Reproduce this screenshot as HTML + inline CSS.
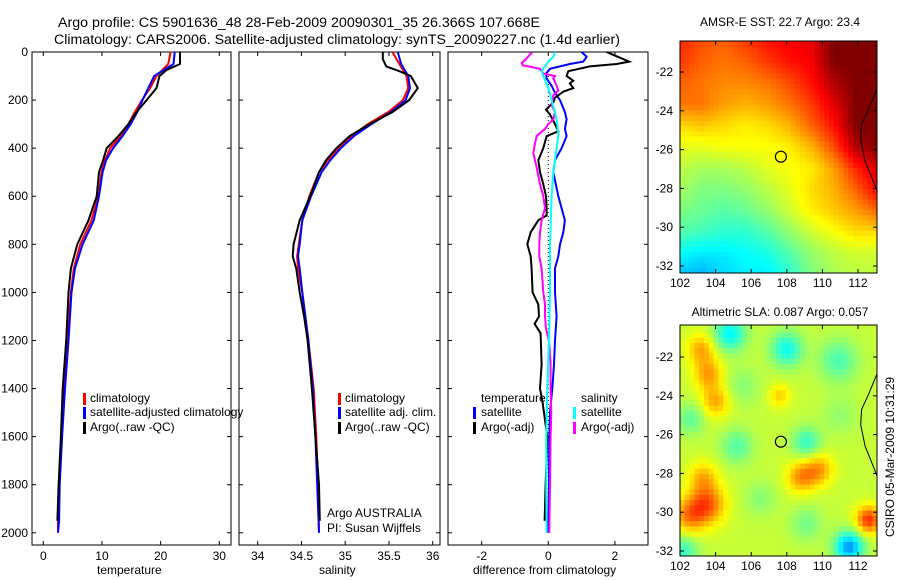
<!DOCTYPE html>
<html><head><meta charset="utf-8"><style>
html,body{margin:0;padding:0;background:#fff;}
svg{display:block;font-family:"Liberation Sans",sans-serif;}
text{font-size:12px;fill:#000;}
</style></head><body>
<svg id="fig" width="900" height="580" viewBox="0 0 900 580" xmlns="http://www.w3.org/2000/svg">
<defs>
<clipPath id="c1"><rect x="32" y="52" width="199" height="493"/></clipPath>
<clipPath id="c2"><rect x="239" y="52" width="201" height="493"/></clipPath>
<clipPath id="c3"><rect x="448" y="52" width="200" height="493"/></clipPath>
<clipPath id="m1c"><rect x="680" y="41" width="197" height="232"/></clipPath>
<clipPath id="m2c"><rect x="680" y="325" width="197" height="231"/></clipPath>
</defs>
<text x="58" y="27" textLength="482" lengthAdjust="spacingAndGlyphs" style="font-size:13.5px">Argo profile: CS 5901636_48 28-Feb-2009 20090301_35 26.366S 107.668E</text>
<text x="54" y="44" textLength="566" lengthAdjust="spacingAndGlyphs" style="font-size:13.5px">Climatology: CARS2006. Satellite-adjusted climatology: synTS_20090227.nc (1.4d earlier)</text>
<g id="layer"></g>
</svg>
<script>
// ---------- data ----------
const depthT = [0,50,75,100,150,200,250,300,350,400,450,500,600,700,800,900,1000,1200,1400,1600,1800,1950];
const tempArgo = [23.3,23.3,21,19.8,19.3,17.6,15.9,14.5,12.8,10.8,10.2,9.5,9.1,7.7,5.8,4.7,4.3,3.9,3.3,3.0,2.6,2.4];
const depthC = [0,50,100,150,200,250,300,350,400,450,500,600,700,800,900,1000,1200,1400,1600,1800,1950,2000];
const tempClim = [21.7,21.3,19.3,18.2,16.8,15.6,14.5,13.1,11.4,10.5,9.9,9.4,8.2,6.3,5.2,4.7,4.1,3.5,3.1,2.7,2.5,2.5];
const tempSat = [22.4,22.2,18.9,17.9,16.9,16.0,14.9,13.5,11.9,10.7,10.1,9.5,8.6,6.7,5.4,4.8,4.3,3.7,3.2,2.8,2.7,2.5];
const depthSA = [0,30,60,80,100,150,200,250,300,350,400,450,500,600,700,800,850,900,1000,1100,1200,1400,1600,1800,1950];
const salArgo = [35.43,35.43,35.47,35.62,35.75,35.83,35.73,35.54,35.28,35.05,34.90,34.78,34.70,34.60,34.48,34.41,34.40,34.44,34.48,34.53,34.57,34.62,34.66,34.70,34.71];
const depthSC = [0,50,100,150,200,250,300,350,400,450,500,600,700,800,850,900,1000,1200,1400,1600,1800,2000];
const salClim = [35.54,35.62,35.70,35.72,35.66,35.49,35.26,35.07,34.92,34.80,34.70,34.59,34.51,34.47,34.45,34.46,34.51,34.58,34.64,34.67,34.69,34.70];
const salSat = [35.60,35.64,35.72,35.74,35.69,35.52,35.30,35.10,34.95,34.83,34.73,34.61,34.51,34.48,34.46,34.48,34.51,34.58,34.63,34.66,34.68,34.70];
const depthDA = [0,15,40,50,60,80,100,120,130,150,165,190,210,240,260,300,330,350,400,450,500,550,600,650,680,700,750,800,850,900,1000,1050,1100,1130,1170,1300,1400,1450,1500,1550,1600,1700,1800,1900,1950];
const diffTArgo = [1.75,2.0,2.43,2.05,1.25,0.6,0.55,0.75,0.65,0.75,0.45,0.2,0.15,-0.07,0.05,0.2,0.3,-0.05,-0.15,-0.3,-0.25,-0.15,-0.07,-0.05,-0.05,-0.3,-0.53,-0.63,-0.53,-0.5,-0.47,-0.3,-0.28,-0.41,-0.23,-0.2,-0.25,-0.18,-0.13,-0.08,-0.03,-0.05,-0.08,-0.1,-0.11];
const depthDS = [0,20,40,50,70,90,110,140,170,200,250,280,320,350,400,450,500,600,700,750,800,850,900,1000,1100,1200,1300,1400,1500,1600,1800,2000];
const diffTSat = [1.0,1.15,1.05,0.65,0.05,-0.07,-0.05,0.1,0.2,0.35,0.5,0.55,0.5,0.55,0.4,0.2,0.15,0.3,0.5,0.45,0.35,0.3,0.2,0.2,0.25,0.2,0.17,0.12,0.05,0.03,0.02,0];
const depthDC = [0,20,40,60,80,100,150,200,250,300,350,400,450,500,600,800,1000,1200,1400,1600,1800,2000];
const diffSSat = [0.2,0.15,0,-0.1,-0.2,-0.15,0,0.1,0.2,0.27,0.3,0.25,0.2,0.15,0.1,0.05,0.05,0.02,-0.03,-0.06,-0.06,-0.05];
const depthDM = [0,10,30,45,55,70,90,100,110,140,160,180,220,250,280,300,320,350,380,420,480,550,600,650,700,750,800,850,900,1000,1050,1100,1150,1200,1300,1400,1500,1600,1800,2000];
const diffSArgo = [-0.47,-0.55,-0.67,-0.8,-0.77,-0.25,-0.15,0.2,0.15,0.25,0.3,0.15,0.1,0.2,0.15,0,-0.1,-0.35,-0.4,-0.45,-0.35,-0.25,-0.15,-0.1,-0.2,-0.25,-0.27,-0.27,-0.2,-0.15,-0.1,-0.1,-0.07,0.02,0.07,0.07,0.09,0.07,0.05,0.03];
const depthTicks = [0,200,400,600,800,1000,1200,1400,1600,1800,2000];
const tempTicks = [0,10,20,30];
const salTicks = [34,34.5,35,35.5,36];
const diffTicks = [-2,0,2];
// SST map coarse grid (colormap index 0..1), rows north->south, cols west->east
const sstGrid = [
[.84,.80,.78,.82,.86,.88,.90,1,1,1],
[.82,.78,.76,.78,.82,.86,.88,1,1,1],
[.78,.76,.74,.74,.76,.80,.86,.95,1,1],
[.76,.76,.72,.70,.72,.76,.82,.90,1,1],
[.66,.68,.66,.64,.66,.70,.78,.86,1,1],
[.60,.60,.62,.62,.62,.64,.70,.80,.95,1],
[.56,.54,.54,.56,.60,.62,.64,.72,.84,.92],
[.54,.50,.50,.52,.56,.60,.66,.70,.78,.88],
[.50,.48,.46,.48,.52,.58,.64,.68,.72,.78],
[.46,.44,.42,.42,.46,.52,.58,.62,.66,.66],
[.38,.36,.36,.38,.40,.46,.52,.56,.58,.58],
[.32,.30,.34,.36,.36,.42,.50,.54,.56,.56]];
// SLA map features: lon, lat, amplitude, radius(deg)
const slaLon = [103.2,103.6,104.0,103.5,102.5,103.3,108.8,109.8,112.6,107.6,104.8,108.0,111.5,102.2,110.9,109.1,105.2,102.6,106.5,109.1,105.5,111.0];
const slaLat = [-21.6,-22.9,-24.3,-29.6,-30.2,-28.2,-28.2,-27.8,-30.4,-24.0,-20.8,-21.6,-31.8,-32.0,-22.2,-26.4,-26.6,-25.2,-29.3,-30.6,-23.5,-25.0];
const slaAmp = [0.14,0.15,0.14,0.22,0.16,0.12,0.16,0.15,0.26,0.10,-0.2,-0.18,-0.3,-0.14,-0.12,-0.14,-0.11,-0.1,-0.06,-0.08,-0.06,-0.05];
const slaRad = [0.8,0.8,0.8,1.0,0.9,0.8,0.8,0.8,0.7,0.6,0.9,0.9,0.8,0.8,1.1,0.8,0.9,0.8,0.9,0.9,1.0,1.0];
const slaBase = 0.57;
const lonTicks = [102,104,106,108,110,112];
const latTicks = [-22,-24,-26,-28,-30,-32];
const argoLon = 107.668, argoLat = -26.366;
const coastLon = [113.1,112.6,112.2,112.15,112.4,112.8,113.1];
const coastLat = [-22.8,-23.9,-24.7,-25.5,-26.6,-27.5,-28.2];

// ---------- helpers ----------
const NS='http://www.w3.org/2000/svg';
const layer=document.getElementById('layer');
function mk(tag,attrs,parent){const e=document.createElementNS(NS,tag);for(const k in attrs)e.setAttribute(k,attrs[k]);(parent||layer).appendChild(e);return e;}
const PB = 545;
const yD = d => 52 + d*0.2404;
const xT = v => 43.3 + v*5.867;
const xS = v => 257.7 + (v-34)*87.5;
const xD = v => 548.3 + v*33.3;
function poly(xs,ds,fx,color,clip,name,w){
  const pts=xs.map((v,i)=>fx(v).toFixed(1)+','+yD(ds[i]).toFixed(1)).join(' ');
  const p=mk('polyline',{points:pts,fill:'none',stroke:color,'stroke-width':w||2,'clip-path':'url(#'+clip+')'});
  
  
}
function frame(x0,x1,name){
  const r=mk('rect',{x:x0,y:52,width:x1-x0,height:PB-52,fill:'none',stroke:'#000','stroke-width':1});
  
  
  depthTicks.forEach(d=>{const y=yD(d);
    mk('line',{x1:x0,x2:x0+4,y1:y,y2:y,stroke:'#000'});
    mk('line',{x1:x1-4,x2:x1,y1:y,y2:y,stroke:'#000'});});
}
function xticks(ticks,fx,fmt,name){
  ticks.forEach(t=>{const x=fx(t);
    mk('line',{x1:x,x2:x,y1:52,y2:56,stroke:'#000'});
    mk('line',{x1:x,x2:x,y1:PB-4,y2:PB,stroke:'#000'});
    const tx=mk('text',{x:x,y:560,'text-anchor':'middle'});tx.textContent=fmt(t);
    
    
  });
}
function label(x,y,txt,name,anchor,size){const t=mk('text',{x:x,y:y,'text-anchor':anchor||'start'});if(size)t.style.fontSize=size+'px';t.textContent=txt;
  
  
  return t;}
function legMark(x,y,color,name){const r=mk('rect',{x:x,y:y-10,width:3,height:12,fill:color});
  
  }

// ---------- panel 1: temperature ----------
frame(32,231,'temperature-axes');
xticks(tempTicks,xT,t=>String(t),'temperature-tick-label');
depthTicks.forEach(d=>{label(28,yD(d)+4,String(d),'depth-tick-label','end');});
poly(tempClim,depthC,xT,'#f00','c1','temp-climatology-line');
poly(tempSat,depthC,xT,'#00f','c1','temp-satellite-line');
poly(tempArgo,depthT,xT,'#000','c1','temp-argo-line');
label(97,574,'temperature','temperature-axis-title');
legMark(83,403,'#f00','legend-climatology-mark');label(90,402,'climatology','legend-climatology');
legMark(83,417,'#00f','legend-satellite-mark');label(90,416,'satellite-adjusted climatology','legend-satellite');
legMark(83,432,'#000','legend-argo-mark');label(90,431,'Argo(..raw -QC)','legend-argo');

// ---------- panel 2: salinity ----------
frame(239,440,'salinity-axes');
xticks(salTicks,xS,t=>String(t),'salinity-tick-label');
poly(salClim,depthSC,xS,'#f00','c2','sal-climatology-line');
poly(salSat,depthSC,xS,'#00f','c2','sal-satellite-line');
poly(salArgo,depthSA,xS,'#000','c2','sal-argo-line');
label(319,574,'salinity','salinity-axis-title');
legMark(338,403,'#f00','legend-sal-clim-mark');label(345,402,'climatology','legend-sal-climatology');
legMark(338,417,'#00f','legend-sal-sat-mark');label(345,416,'satellite adj. clim.','legend-sal-satellite');
legMark(338,432,'#000','legend-sal-argo-mark');label(345,431,'Argo(..raw -QC)','legend-sal-argo');
label(327,517,'Argo AUSTRALIA','credit-argo-australia');
label(327,532,'PI: Susan Wijffels','credit-pi');

// ---------- panel 3: differences ----------
frame(448,648,'difference-axes');
xticks(diffTicks,xD,t=>String(t),'difference-tick-label');
mk('line',{x1:xD(0),x2:xD(0),y1:yD(100),y2:yD(2000),stroke:'#000','stroke-width':1,'stroke-dasharray':'1,3'});
poly(diffTSat,depthDS,xD,'#00f','c3','diff-temp-satellite-line');
poly(diffTArgo,depthDA,xD,'#000','c3','diff-temp-argo-line');
poly(diffSArgo,depthDM,xD,'#f0f','c3','diff-sal-argo-line');
poly(diffSSat,depthDC,xD,'#0ff','c3','diff-sal-satellite-line');
label(473,574,'difference from climatology','difference-axis-title');
label(481,402,'temperature','legend-temperature-header');
legMark(473,417,'#00f','legend-temp-sat-mark');label(481,416,'satellite','legend-temp-satellite');
legMark(473,432,'#000','legend-temp-argo-mark');label(481,431,'Argo(-adj)','legend-temp-argo');
label(581,402,'salinity','legend-salinity-header');
legMark(573,417,'#0ff','legend-sal-sat-mark2');label(581,416,'satellite','legend-sal-satellite2');
legMark(573,432,'#f0f','legend-sal-argo-mark2');label(581,431,'Argo(-adj)','legend-sal-argo2');

// ---------- maps ----------
function jet(v){v=Math.max(0,Math.min(1,v));
  const c=x=>Math.max(0,Math.min(1,1.5-Math.abs(x)));
  const r=c(4*v-3),g=c(4*v-2),b=c(4*v-1);
  return 'rgb('+Math.round(r*255)+','+Math.round(g*255)+','+Math.round(b*255)+')';}
const mxL = lon => 680 + (lon-102)*17.8;
const LAT0=-20.4, LAT1=-32.4, LON0=102, LON1=113.1;
function drawMap(y22,top,bot,clip,valFn,name,title,titleY){
  const g=mk('g',{'clip-path':'url(#'+clip+')'});
  
  
  const my = lat => y22 + (-22-lat)*19.4;
  const step=0.27;
  for(let lat=-20.2; lat>-32.6; lat-=step){
    for(let lon=LON0; lon<113.4; lon+=step){
      const x=mxL(lon), y=my(lat);
      mk('rect',{x:x.toFixed(1),y:y.toFixed(1),width:(step*17.8+0.6).toFixed(1),height:(step*19.4+0.6).toFixed(1),fill:jet(valFn(lon+step/2,lat-step/2))},g);
    }
  }
  const cp=coastLon.map((lo,i)=>mxL(lo).toFixed(1)+','+my(coastLat[i]).toFixed(1)).join(' ');
  const cl=mk('polyline',{points:cp,fill:'none',stroke:'#000','stroke-width':1},g);
  
  
  const ci=mk('circle',{cx:mxL(argoLon),cy:my(argoLat),r:5.5,fill:'none',stroke:'#000','stroke-width':1.2});
  
  
  const fr=mk('rect',{x:680,y:top,width:197,height:bot-top,fill:'none',stroke:'#000'});
  
  
  lonTicks.forEach(l=>{const x=mxL(l);
    mk('line',{x1:x,x2:x,y1:top,y2:top+4,stroke:'#000'});
    mk('line',{x1:x,x2:x,y1:bot-4,y2:bot,stroke:'#000'});
    label(x,bot+14,String(l),name+'-lon-label','middle');});
  latTicks.forEach(l=>{const y=my(l);
    mk('line',{x1:680,x2:684,y1:y,y2:y,stroke:'#000'});
    mk('line',{x1:873,x2:877,y1:y,y2:y,stroke:'#000'});
    label(673,y+4,String(l),name+'-lat-label','end');});
  label(780,titleY,title,name+'-title','middle');
}
function sstVal(lon,lat){
  const rows=sstGrid.length, cols=sstGrid[0].length;
  const fx=(lon-LON0)/(LON1-LON0)*(cols-1), fy=(LAT0-lat)/(LAT0-LAT1)*(rows-1);
  const cx=Math.max(0,Math.min(cols-1,fx)), cy=Math.max(0,Math.min(rows-1,fy));
  const i0=Math.min(cols-2,Math.floor(cx)), j0=Math.min(rows-2,Math.floor(cy));
  const tx=cx-i0, ty=cy-j0;
  const a=sstGrid[j0][i0]*(1-tx)+sstGrid[j0][i0+1]*tx;
  const b=sstGrid[j0+1][i0]*(1-tx)+sstGrid[j0+1][i0+1]*tx;
  return a*(1-ty)+b*ty;
}
function slaVal(lon,lat){
  let v=slaBase;
  for(let k=0;k<slaLon.length;k++){
    const dx=lon-slaLon[k], dy=lat-slaLat[k];
    v+=slaAmp[k]*Math.exp(-(dx*dx+dy*dy)/(slaRad[k]*slaRad[k]));
  }
  return v;
}
drawMap(72,41,273,'m1c',sstVal,'sst-map','AMSR-E SST: 22.7 Argo: 23.4',26);
drawMap(357,325,556,'m2c',slaVal,'sla-map','Altimetric SLA: 0.087 Argo: 0.057',316);
const st=label(0,0,'CSIRO 05-Mar-2009 10:31:29','timestamp','middle');
st.setAttribute('transform','translate(894,457) rotate(-90)');
</script>
</body></html>
